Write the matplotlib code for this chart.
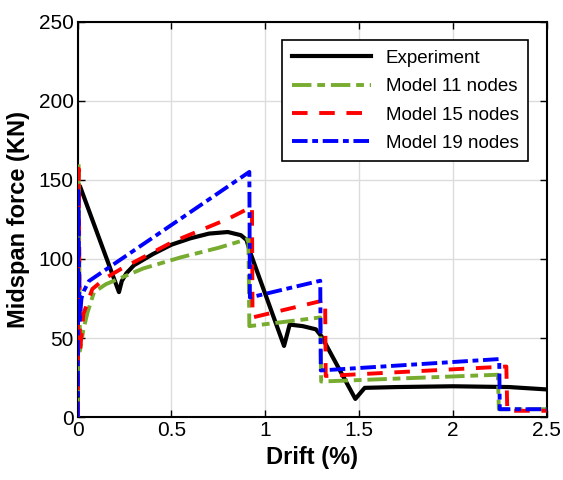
import matplotlib
matplotlib.use("Agg")
import matplotlib.pyplot as plt
import numpy as np

plt.rcParams['font.family'] = ['Liberation Sans', 'DejaVu Sans']

# experiment
exp_drift = [0, 0.003, 0.012, 0.22, 0.235, 0.26, 0.3, 0.4, 0.5, 0.6, 0.7, 0.8, 0.87, 0.9, 0.92,
             1.10, 1.13, 1.2, 1.27, 1.3, 1.48, 1.53, 1.7, 2.0, 2.3, 2.5]
exp_force = [0, 140, 146, 79, 86, 91, 96, 103, 109, 113, 116, 117, 115, 112, 104,
             45, 58.5, 57.5, 55.5, 51, 11.5, 18.5, 19, 19.5, 19, 17.5]

# model 11 nodes
m11_drift = [0, 0.005, 0.012, 0.03, 0.052, 0.087, 0.15, 0.21, 0.35, 0.55, 0.75, 0.91,
             0.915, 1.293, 1.298, 2.24, 2.245, 2.5]
m11_force = [0, 160, 42, 55, 66, 79, 84, 87, 94, 101, 107, 112.7,
             57.5, 63, 22.5, 26.8, 5, 5]

# model 15 nodes
m15_drift = [0, 0.005, 0.012, 0.03, 0.078, 0.15, 0.23, 0.51, 0.805, 0.929,
             0.932, 1.319, 1.322, 2.285, 2.29, 2.5]
m15_force = [0, 157, 41, 65, 81, 88, 93.6, 111, 125.5, 133,
             63, 74, 26, 32, 4, 4]

# model 19 nodes
m19_drift = [0, 0.003, 0.01, 0.02, 0.034, 0.06, 0.55, 0.915,
             0.918, 1.293, 1.296, 2.247, 2.25, 2.5]
m19_force = [0, 143, 60, 75, 80, 86, 125.5, 155,
             75.6, 86.2, 29.5, 36.7, 5, 5]

fig = plt.figure(figsize=(5.63, 4.8), dpi=100)
ax = fig.add_axes([0.138, 0.131, 0.833, 0.824])

ax.plot(exp_drift, exp_force, color='black', lw=3, label='Experiment', zorder=3)
ax.plot(m11_drift, m11_force, color=(0.466, 0.674, 0.188), lw=2.8, ls=(0, (5, 1.5, 2, 1.5)),
        label='Model 11 nodes', zorder=4)
ax.plot(m15_drift, m15_force, color='red', lw=2.8, ls=(0, (4, 3)), label='Model 15 nodes', zorder=5)
ax.plot(m19_drift, m19_force, color='blue', lw=2.8, ls=(0, (4, 1.2, 1.5, 1.2)),
        label='Model 19 nodes', zorder=6)

ax.set_xlim(0, 2.5)
ax.set_ylim(0, 250)
ax.set_xticks([0, 0.5, 1, 1.5, 2, 2.5])
ax.set_xticklabels(['0', '0.5', '1', '1.5', '2', '2.5'])
ax.set_yticks([0, 50, 100, 150, 200, 250])
ax.tick_params(direction='in', labelsize=15, length=5, width=1, top=True, right=True, pad=3)
ax.grid(True, color='#dcdcdc', lw=1)
ax.set_axisbelow(True)
for s in ax.spines.values():
    s.set_linewidth(1.5)

ax.set_xlabel('Drift (%)', fontsize=17, fontweight='bold', labelpad=4)
ax.set_ylabel('Midspan force (KN)', fontsize=17, fontweight='bold', labelpad=6)

leg = ax.legend(loc='upper right', fontsize=13.5, fancybox=False, edgecolor='black',
                framealpha=1, handlelength=4.2, borderaxespad=1.0, labelspacing=0.6,
                borderpad=0.5)
leg.get_frame().set_linewidth(1.2)

fig.savefig('out.png', dpi=100)
